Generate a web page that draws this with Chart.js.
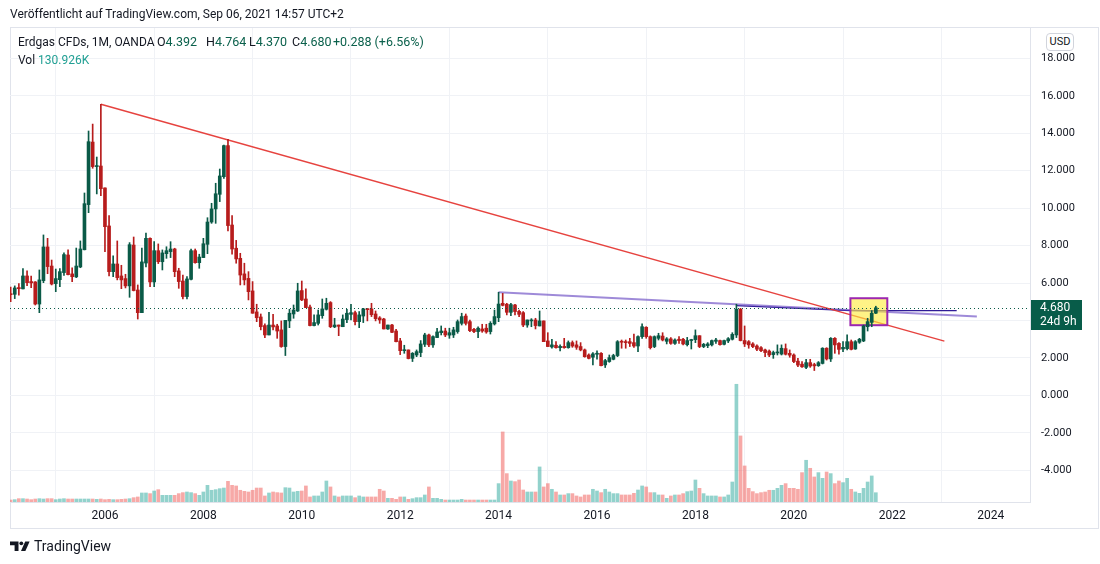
<!DOCTYPE html>
<html><head><meta charset="utf-8">
<script src="https://cdn.jsdelivr.net/npm/chart.js@4.4.1/dist/chart.umd.min.js"></script>
<style>
html,body{margin:0;padding:0;background:#fff;}
body{width:1100px;height:564px;position:relative;overflow:hidden;font-family:Roboto,"Liberation Sans",sans-serif;color:#131722;}
#c{position:absolute;left:0;top:0;}
.t{position:absolute;white-space:nowrap;line-height:16px;}
#frame{position:absolute;left:10px;top:27px;width:1089px;height:502px;border:1px solid #e0e3eb;box-sizing:border-box;}
#usd{position:absolute;left:1046px;top:33px;width:28px;height:18px;border:1px solid #d1d4dc;border-radius:4px;box-sizing:border-box;font-size:11px;line-height:16px;text-align:center;background:#fff;}
.g{color:#0b614c;}
.v{font-size:12.5px;}
</style></head><body>
<div id="frame"></div>
<canvas id="c" width="1100" height="564"></canvas>
<div class="t" style="left:10px;top:6px;font-size:12px;">Veröffentlicht auf TradingView.com, Sep 06, 2021 14:57 UTC+2</div>
<div class="t" style="left:18px;top:34px;font-size:12px;">Erdgas CFDs, 1M, OANDA</div>
<div class="t v" style="left:157px;top:34px;">O<span class="g">4.392</span></div>
<div class="t v" style="left:206px;top:34px;">H<span class="g">4.764</span></div>
<div class="t v" style="left:249px;top:34px;">L<span class="g">4.370</span></div>
<div class="t v" style="left:292px;top:34px;">C<span class="g">4.680</span></div>
<div class="t v g" style="left:333px;top:34px;">+0.288 (+6.56%)</div>
<div class="t" style="left:18px;top:52px;font-size:12px;">Vol <span style="color:#22a094">130.926K</span></div>
<div id="usd">USD</div>
<svg style="position:absolute;left:10px;top:540px" width="22" height="12" viewBox="0 0 22 12">
<path d="M0 1.5H8.5V11H4.6V5.2H0Z" fill="#131722"/>
<circle cx="11.3" cy="3.3" r="1.9" fill="#131722"/>
<path d="M15.2 1.5H19.6L15.4 11H11Z" fill="#131722"/>
</svg>
<div class="t" style="left:34px;top:538px;font-size:14px;">TradingView</div>
<script>
// ---- data (monthly candles, Feb 2004 .. Sep 2021) ----
const firstMonth = {year: 2004, month: 1}; // Feb 2004 (0-based month)
const open = [5.42,5.40,5.76,5.69,6.38,6.08,6.06,4.88,6.13,7.93,
6.91,5.97,6.18,6.56,7.50,6.49,6.33,6.86,7.78,10.19,
13.53,12.22,12.25,11.08,9.05,6.61,7.02,6.38,6.24,5.85,
8.03,5.63,4.42,7.07,8.39,6.06,7.73,7.14,7.57,7.68,
7.82,6.65,6.11,5.28,6.20,7.73,7.09,7.36,8.07,9.26,
9.96,10.74,11.68,13.34,9.10,7.86,7.32,6.49,6.25,5.58,
4.46,4.19,3.73,3.23,3.76,3.71,3.50,2.61,3.98,4.35,
4.51,5.60,5.15,4.72,3.73,3.85,4.26,4.60,4.96,3.66,
3.76,3.67,4.05,4.33,4.42,3.94,4.24,4.62,4.62,4.35,
4.14,4.08,3.55,3.76,3.44,2.91,2.39,2.43,1.98,2.16,
2.29,2.73,3.23,2.70,3.09,3.35,3.44,3.22,3.23,3.41,
3.85,4.24,3.94,3.53,3.41,3.55,3.59,3.41,3.82,4.15,
4.92,4.87,4.44,4.83,4.49,4.42,3.76,3.98,4.03,3.71,
3.98,2.91,2.59,2.68,2.55,2.62,2.55,2.82,2.70,2.61,
2.43,2.16,2.04,2.20,2.25,1.63,1.81,1.93,2.13,2.87,
2.87,2.87,2.82,2.64,3.14,3.64,3.14,2.61,3.05,3.17,
2.89,3.02,2.78,3.00,3.00,2.71,2.93,2.98,3.19,2.61,
2.66,2.70,2.89,2.93,2.73,2.91,3.00,3.23,4.60,2.93,
2.87,2.75,2.64,2.55,2.43,2.37,2.18,2.27,2.21,2.50,
2.25,2.16,1.83,1.67,1.50,1.75,1.65,1.59,1.71,2.52,
1.95,3.05,2.78,2.48,2.50,2.87,2.48,2.84,2.91,3.67,
3.90,4.392];
const high = [5.79,5.85,5.97,6.77,6.65,6.38,6.08,6.70,8.57,8.39,
7.23,6.75,6.77,7.61,7.77,6.82,7.87,8.25,10.81,14.12,
14.49,12.73,15.54,11.08,9.60,7.45,8.25,6.95,6.47,8.16,
8.46,5.90,7.87,8.67,8.41,8.21,8.09,7.77,7.94,8.21,
7.86,6.79,6.43,6.34,7.82,7.82,7.54,8.39,9.49,10.26,
11.33,12.09,13.37,13.67,9.60,8.28,7.59,7.06,6.61,6.08,
4.87,4.35,3.83,4.44,4.33,3.80,3.98,4.01,4.60,4.83,
5.99,6.11,5.69,4.83,4.30,4.56,5.15,5.19,5.01,4.12,
3.76,4.30,4.60,4.87,4.51,4.48,4.65,4.64,4.92,4.51,
4.21,4.12,3.76,3.80,3.53,3.05,2.68,2.43,2.29,2.43,
2.93,3.32,3.27,3.18,3.59,3.71,3.59,3.59,3.64,4.03,
4.39,4.35,4.03,3.59,3.67,3.80,3.80,3.94,4.56,5.51,
5.45,4.92,4.92,4.87,4.56,4.48,4.03,4.10,4.12,4.51,
3.98,3.35,3.00,2.87,2.70,3.05,2.91,2.91,2.91,2.82,
2.48,2.22,2.29,2.38,2.29,1.93,2.16,2.20,2.93,2.96,
2.96,3.05,3.28,3.18,3.82,3.67,3.18,3.18,3.32,3.35,
3.09,3.09,3.02,3.14,3.05,3.10,3.00,3.50,3.19,2.78,
2.82,2.96,3.05,2.96,2.96,3.09,3.35,4.87,4.65,3.71,
2.93,2.82,2.70,2.61,2.47,2.43,2.37,2.70,2.70,2.75,
2.43,2.22,1.98,1.81,1.93,1.93,1.72,1.81,2.55,2.55,
3.09,3.09,2.82,2.87,3.23,2.96,2.93,3.05,3.76,4.12,
4.53,4.764];
const low = [5.01,5.17,5.36,5.69,5.86,5.76,4.83,4.42,6.02,6.50,
5.90,5.54,5.81,6.41,6.43,6.08,6.29,6.82,7.77,9.76,
12.13,10.76,10.67,7.68,6.38,6.34,6.17,5.70,5.74,5.24,
5.58,4.08,4.42,6.86,5.81,5.81,7.04,6.70,7.32,7.36,
6.34,5.72,5.15,5.15,6.17,7.06,6.79,7.36,7.57,9.19,
9.19,10.35,11.59,8.78,7.54,7.06,5.90,5.90,5.10,4.39,
3.94,3.50,3.09,3.23,3.50,3.05,2.57,2.13,3.62,4.12,
4.48,5.06,4.69,3.71,3.71,3.76,4.12,4.56,3.62,3.62,
3.19,3.67,3.89,4.03,3.76,3.62,3.89,3.98,4.21,3.98,
3.85,3.55,3.53,3.35,2.86,2.18,2.25,1.95,1.81,2.07,
2.07,2.61,2.61,2.57,3.09,3.23,3.14,3.05,3.09,3.32,
3.76,3.76,3.41,3.35,3.09,3.37,3.32,3.28,3.76,3.94,
4.78,4.30,4.26,4.30,4.21,3.67,3.64,3.67,3.55,3.71,
2.87,2.61,2.52,2.52,2.38,2.52,2.52,2.57,2.46,2.38,
2.04,1.95,1.63,1.93,1.57,1.49,1.77,1.90,2.07,2.52,
2.52,2.61,2.57,2.34,3.05,3.05,2.48,2.55,2.96,2.91,
2.75,2.73,2.73,2.78,2.70,2.64,2.48,2.82,2.55,2.55,
2.55,2.64,2.78,2.68,2.70,2.82,2.96,3.09,2.91,2.61,
2.52,2.55,2.39,2.34,2.07,2.07,1.98,2.16,2.16,2.16,
2.04,1.75,1.53,1.49,1.43,1.50,1.33,1.55,1.68,1.89,
1.81,2.25,2.20,2.34,2.43,2.43,2.46,2.78,2.87,3.44,
3.67,4.370];
const close = [5.38,5.74,5.70,6.38,6.02,6.01,4.88,6.17,7.93,6.88,
5.95,6.24,6.61,7.52,6.45,6.34,6.91,7.82,10.24,13.55,
12.22,12.25,11.04,9.01,6.61,7.02,6.29,6.17,5.85,8.05,
5.60,4.42,7.13,8.39,6.06,7.73,7.14,7.61,7.73,7.82,
6.61,6.08,5.28,6.22,7.73,7.09,7.39,8.10,9.26,9.96,
10.77,11.72,13.34,9.07,7.82,7.29,6.43,6.17,5.54,4.39,
4.15,3.67,3.23,3.76,3.66,3.44,2.61,4.01,4.39,4.56,
5.58,5.10,4.69,3.73,3.89,4.30,4.62,4.92,3.67,3.76,
3.69,4.08,4.39,4.42,3.94,4.30,4.62,4.58,4.31,4.10,
4.03,3.55,3.76,3.37,2.87,2.39,2.43,1.97,2.25,2.34,
2.75,3.23,2.70,3.14,3.39,3.44,3.23,3.35,3.50,3.94,
4.21,3.85,3.46,3.41,3.59,3.44,3.39,3.85,4.21,4.88,
4.81,4.44,4.85,4.48,4.33,3.76,4.03,4.03,3.73,3.98,
2.87,2.61,2.70,2.55,2.62,2.55,2.82,2.64,2.57,2.43,
2.07,1.98,2.22,2.25,1.59,1.86,2.02,2.13,2.87,2.84,
2.82,2.78,2.64,3.14,3.67,3.14,2.55,3.14,3.19,2.96,
3.02,2.78,2.96,2.93,2.75,2.93,2.98,3.19,2.61,2.73,
2.75,2.93,2.96,2.71,2.93,3.03,3.26,4.60,2.93,2.75,
2.70,2.61,2.47,2.39,2.29,2.16,2.29,2.31,2.52,2.20,
2.15,1.81,1.62,1.53,1.75,1.57,1.58,1.75,2.52,1.95,
3.05,2.70,2.46,2.57,2.87,2.46,2.87,3.00,3.71,3.94,
4.39,4.680];
const volumeK = [28,33,47,47,42,33,42,47,42,47,
47,33,42,47,42,42,42,42,42,42,
42,38,42,33,38,33,33,38,42,47,
61,71,127,127,118,155,174,94,94,94,
94,118,132,141,132,118,94,141,235,165,
174,188,197,291,235,226,165,150,141,165,
197,197,85,127,141,132,127,202,197,141,
150,155,226,71,85,85,141,296,212,85,
71,85,85,85,61,85,71,71,71,71,
179,155,52,52,38,71,71,38,47,61,
61,99,212,52,52,38,28,28,28,28,
38,28,28,28,28,28,28,28,28,259,
987,400,296,287,310,169,141,141,141,494,
212,259,179,141,99,99,118,118,85,71,
99,99,179,155,132,179,141,118,118,99,
99,99,122,169,226,212,132,132,99,99,
52,85,99,99,118,146,155,310,193,118,
85,85,85,71,71,99,282,1659,931,508,
193,146,118,132,141,165,165,193,235,259,
193,193,179,414,588,475,353,414,334,423,
400,259,296,273,334,179,141,122,193,282,
367,130.926];
const xTickYears = [2006,2008,2010,2012,2014,2016,2018,2020,2022,2024];
const yTickValues = [-4,-2,0,2,4,6,8,10,12,14,16,18];
const xRange = [2004.07, 2024.80];
const yRange = [-5.69, 19.62];
const volumeAxisMax = 6680;
// drawings (time in decimal years, price)
const redLineX = [2005.917, 2023.06], redLineY = [15.55, 2.90];
const line2014X = [2014.0, 2023.72], line2014Y = [5.51, 4.21];
const line2018X = [2018.83, 2021.15, 2023.31], line2018Y = [4.80, 4.53, 4.53];
const rectX = [2021.15, 2021.90], rectY = [3.75, 5.19];
const countdown = '24d 9h';

const GREEN = '#0a5a47', RED = '#b71c1c';
const times = open.map((_, i) => firstMonth.year + (firstMonth.month + i) / 12);
const up = close.map((c, i) => c >= open[i]);
const candleColor = up.map(u => u ? GREEN : RED);
const volColor = up.map(u => u ? 'rgba(38,166,154,0.5)' : 'rgba(239,83,80,0.5)');
const pts = (xs, ys) => xs.map((x, i) => ({x, y: ys[i]}));
const lastClose = close[close.length - 1];
const WICK_IDX = 4;

const overlay = {
  id: 'overlay',
  beforeDatasetDraw(chart, args) {
    if (args.index !== WICK_IDX) return;
    const {ctx, scales: {x, y}} = chart;
    const x0 = x.getPixelForValue(rectX[0]), x1 = x.getPixelForValue(rectX[1]);
    const y0 = y.getPixelForValue(rectY[1]), y1 = y.getPixelForValue(rectY[0]);
    ctx.save();
    ctx.fillStyle = 'rgba(255,235,59,0.62)';
    ctx.fillRect(x0, y0, x1 - x0, y1 - y0);
    ctx.strokeStyle = '#9c27b0';
    ctx.lineWidth = 2;
    ctx.strokeRect(x0, y0, x1 - x0, y1 - y0);
    ctx.restore();
  },
  afterDatasetsDraw(chart) {
    const {ctx, scales: {y}, chartArea} = chart;
    const py = Math.round(y.getPixelForValue(lastClose)) + 0.5;
    ctx.save();
    ctx.strokeStyle = '#0a5a47';
    ctx.lineWidth = 1;
    ctx.setLineDash([1, 3]);
    ctx.beginPath();
    ctx.moveTo(chartArea.left, py);
    ctx.lineTo(chartArea.right, py);
    ctx.stroke();
    ctx.restore();
  },
  afterDraw(chart) {
    const {ctx, scales: {y}, chartArea} = chart;
    const py = Math.round(y.getPixelForValue(lastClose));
    ctx.save();
    ctx.fillStyle = '#085c49';
    ctx.fillRect(chartArea.right + 1, py - 8, 51, 30);
    ctx.fillStyle = '#ffffff';
    ctx.font = '12px Roboto';
    ctx.textBaseline = 'middle';
    ctx.fillText(lastClose.toFixed(3), chartArea.right + 10, py);
    ctx.fillText(countdown, chartArea.right + 10, py + 14);
    ctx.restore();
  }
};

new Chart(document.getElementById('c'), {
  type: 'bar',
  data: {
    datasets: [
      {label: 'Vol', data: pts(times, volumeK), yAxisID: 'yv', backgroundColor: volColor,
       barThickness: 3, grouped: false, order: 10},
      {type: 'line', label: 'trend', data: pts(redLineX, redLineY), borderColor: 'rgba(229,57,53,0.95)',
       borderWidth: 1.5, pointRadius: 0, order: 5},
      {type: 'line', label: 'trend2014', data: pts(line2014X, line2014Y), borderColor: 'rgba(94,60,190,0.6)',
       borderWidth: 2, pointRadius: 0, order: 5},
      {type: 'line', label: 'trend2018', data: pts(line2018X, line2018Y), borderColor: '#2f1b96',
       borderWidth: 1.3, pointRadius: 0, tension: 0, order: 5},
      {label: 'wick', data: times.map((t, i) => ({x: t, y: [low[i], high[i]]})), backgroundColor: candleColor,
       barThickness: 1, grouped: false, order: 2},
      {label: 'body', data: times.map((t, i) => ({x: t, y: [open[i], close[i]]})), backgroundColor: candleColor,
       barThickness: 3, minBarLength: 1, grouped: false, order: 1}
    ]
  },
  options: {
    responsive: false,
    animation: false,
    layout: {padding: {left: 10, top: 28, right: 0, bottom: 36}},
    plugins: {legend: {display: false}, tooltip: {enabled: false}},
    scales: {
      x: {
        type: 'linear', min: xRange[0], max: xRange[1], offset: false,
        afterBuildTicks: s => { s.ticks = xTickYears.map(v => ({value: v})); },
        afterFit: s => { s.height = 26; },
        grid: {color: '#f0f2f6', drawTicks: false},
        border: {color: '#e0e3eb'},
        ticks: {color: '#131722', font: {family: 'Roboto', size: 12}, padding: 7, maxRotation: 0, autoSkip: false,
                callback: v => String(v)}
      },
      y: {
        position: 'right', min: yRange[0], max: yRange[1],
        afterBuildTicks: s => { s.ticks = yTickValues.map(v => ({value: v})); },
        afterFit: s => { s.width = 70; },
        grid: {color: '#f0f2f6', drawTicks: false},
        border: {color: '#e0e3eb'},
        ticks: {color: '#131722', font: {family: 'Roboto', size: 11}, padding: 11, callback: v => v.toFixed(3)}
      },
      yv: {display: false, min: 0, max: volumeAxisMax}
    }
  },
  plugins: [overlay]
});
</script>
</body></html>
